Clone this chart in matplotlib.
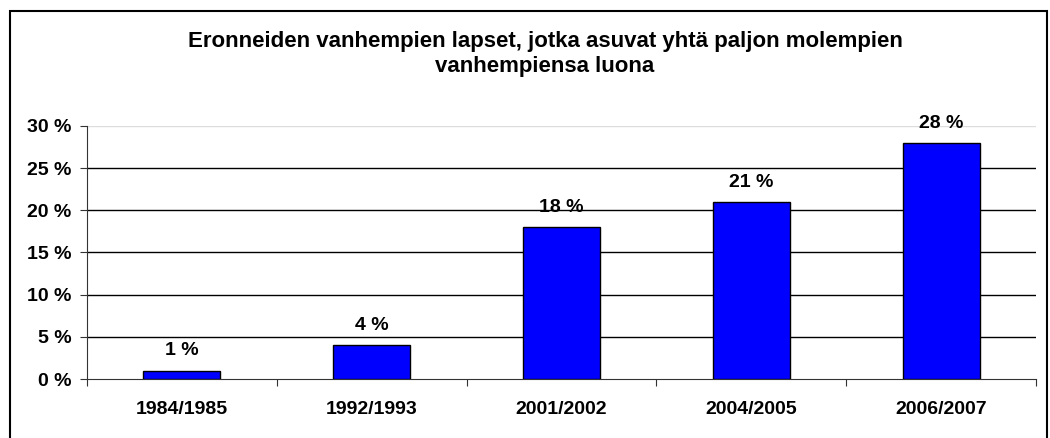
import matplotlib.pyplot as plt
from matplotlib.patches import Rectangle

years = ['1984/1985', '1992/1993', '2001/2002', '2004/2005', '2006/2007']
shares = [1, 4, 18, 21, 28]
yticks = [0, 5, 10, 15, 20, 25, 30]

plt.rcParams['font.family'] = ['Liberation Sans', 'DejaVu Sans']
plt.rcParams['font.weight'] = 'bold'

fig = plt.figure(figsize=(10.5, 4.38), dpi=100)
ax = fig.add_axes([87 / 1050, 1 - 379 / 438, (1036 - 87) / 1050, (379 - 126) / 438])

x = list(range(len(years)))
ax.bar(x, shares, width=0.405, color='#0000FF', edgecolor='black', linewidth=1, zorder=3)

for xi, v in zip(x, shares):
    ax.annotate(f'{v} %', (xi, v), xytext=(0, 8), textcoords='offset points',
                ha='center', va='bottom', fontsize=14, fontweight='bold')

ax.set_xlim(-0.5, len(years) - 0.5)
ax.set_ylim(0, 30)
ax.set_yticks(yticks)
ax.set_yticklabels([f'{t} %' for t in yticks], fontsize=14, fontweight='bold')

# category ticks sit between the bars, labels in the middle
ax.set_xticks([i - 0.5 for i in range(len(years) + 1)])
ax.set_xticklabels([])
ax.set_xticks(x, minor=True)
ax.set_xticklabels(years, minor=True, fontsize=14, fontweight='bold')
ax.tick_params(axis='x', which='major', direction='out', length=5, color='#333333')
ax.tick_params(axis='x', which='minor', length=0, pad=16)
ax.tick_params(axis='y', direction='out', length=5, color='#333333', pad=6)

for t in yticks[1:-1]:
    ax.axhline(t, color='black', linewidth=1, zorder=1)
ax.axhline(30, color='#dddddd', linewidth=1, zorder=1)

for s in ['top', 'right']:
    ax.spines[s].set_visible(False)
ax.spines['left'].set_color('#333333')
ax.spines['bottom'].set_color('#333333')

fig.text(545 / 1050, 1 - 54 / 438,
         'Eronneiden vanhempien lapset, jotka asuvat yhtä paljon molempien\nvanhempiensa luona',
         ha='center', va='center', fontsize=16, fontweight='bold', linespacing=1.2)

fig.patches.append(Rectangle((10 / 1050, -0.1), (1047 - 10) / 1050, 1.1 - 11 / 438,
                             transform=fig.transFigure, fill=False,
                             edgecolor='black', linewidth=1.5))

fig.savefig('out.png', dpi=100)
